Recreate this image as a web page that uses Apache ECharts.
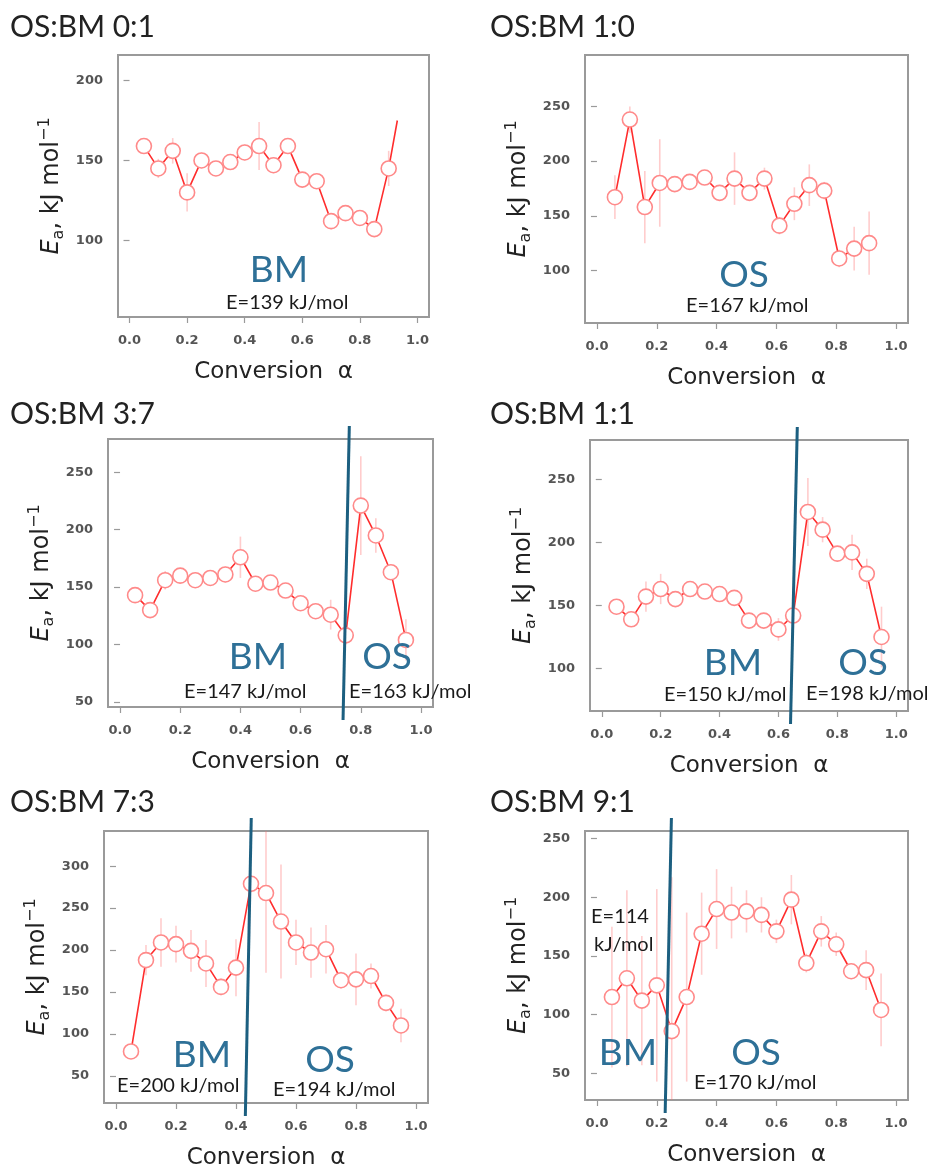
<!DOCTYPE html>
<html>
<head>
<meta charset="utf-8">
<script src="https://cdn.jsdelivr.net/npm/echarts@6/dist/echarts.min.js"></script>
<style>
  html, body { margin: 0; padding: 0; background: #ffffff; }
  #chart { width: 932px; height: 1171px; }
</style>
</head>
<body>
<div id="chart"></div>
<script>
// Activation energy E_a against conversion α for six OS:BM blend ratios.

const xTicks = [0.0, 0.2, 0.4, 0.6, 0.8, 1.0];

const alphaStd = [0.05, 0.10, 0.15, 0.20, 0.25, 0.30, 0.35, 0.40, 0.45, 0.50,
                  0.55, 0.60, 0.65, 0.70, 0.75, 0.80, 0.85, 0.90, 0.95];

// OS:BM 0:1
const alpha01 = [0.05, 0.10, 0.15, 0.20, 0.25, 0.30, 0.35, 0.40, 0.45, 0.50,
                 0.55, 0.60, 0.65, 0.70, 0.75, 0.80, 0.85, 0.90, 0.93];
const ea01  = [159, 145, 156, 130, 150, 145, 149, 155, 159, 147, 159, 138, 137, 112, 117, 114, 107, 145, 175];
const err01 = [5, 6, 8, 12, 5, 4, 4, 5, 15, 5, 5, 4, 4, 5, 4, 4, 4, 11, 0];
const yTicks01 = [100, 150, 200];

// OS:BM 1:0
const alpha10 = [0.06, 0.11, 0.16, 0.21, 0.26, 0.31, 0.36, 0.41, 0.46, 0.51,
                 0.56, 0.61, 0.66, 0.71, 0.76, 0.81, 0.86, 0.91];
const ea10  = [167, 238, 158, 180, 179, 181, 185, 171, 184, 171, 184, 141, 161, 178, 173, 111, 120, 125];
const err10 = [20, 12, 33, 40, 4, 4, 4, 4, 24, 4, 10, 8, 15, 19, 8, 8, 20, 29];
const yTicks10 = [100, 150, 200, 250];

// OS:BM 3:7
const ea37  = [143, 130, 156, 160, 156, 158, 161, 176, 153, 154, 147, 136, 129, 126, 108, 221, 195, 163, 104];
const err37 = [5, 4, 8, 6, 4, 4, 7, 18, 4, 4, 4, 4, 4, 13, 8, 43, 15, 5, 18];
const yTicks37 = [50, 100, 150, 200, 250];

// OS:BM 1:1
const ea11  = [149, 139, 157, 163, 155, 163, 161, 159, 156, 138, 138, 131, 142, 224, 210, 191, 192, 175, 125];
const err11 = [4, 5, 12, 12, 4, 4, 4, 4, 4, 4, 5, 9, 5, 27, 10, 6, 14, 12, 24];
const yTicks11 = [100, 150, 200, 250];

// OS:BM 7:3
const ea73  = [79, 188, 209, 207, 199, 184, 156, 179, 279, 268, 234, 209, 197, 201, 164, 165, 169, 137, 110];
const err73 = [8, 18, 29, 22, 25, 28, 10, 34, 10, 95, 68, 27, 30, 29, 10, 31, 15, 10, 20];
const yTicks73 = [50, 100, 150, 200, 250, 300];

// OS:BM 9:1
const ea91  = [115, 131, 112, 125, 86, 115, 169, 190, 187, 188, 185, 171, 198, 144, 171, 160, 137, 138, 104];
const err91 = [60, 75, 55, 82, 131, 72, 35, 34, 22, 18, 15, 10, 21, 8, 13, 10, 6, 17, 31];
const yTicks91 = [50, 100, 150, 200, 250];

// Regime boundary (α where the drawn divider meets the top and bottom of the frame)
const split37 = [0.761, 0.742];
const split11 = [0.663, 0.642];
const split73 = [0.450, 0.432];
const split91 = [0.248, 0.229];

const BLUE = '#2e7097';
const panels = [
  { title: 'OS:BM 0:1', alpha: alpha01, ea: ea01, err: err01, yTicks: yTicks01, yMin: 52, yMax: 216,
    box: [118, 55, 311, 262], titlePos: [10, 27], openEnd: true, split: null,
    notes: [
      { t: 'BM', x: 279, y: 270, big: true },
      { t: 'E=139 kJ/mol', x: 226, y: 303 }
    ] },
  { title: 'OS:BM 1:0', alpha: alpha10, ea: ea10, err: err10, yTicks: yTicks10, yMin: 52, yMax: 297,
    box: [585, 55, 323, 268], titlePos: [490, 27], split: null,
    notes: [
      { t: 'OS', x: 744, y: 275, big: true },
      { t: 'E=167 kJ/mol', x: 686, y: 306 }
    ] },
  { title: 'OS:BM 3:7', alpha: alphaStd, ea: ea37, err: err37, yTicks: yTicks37, yMin: 45.6, yMax: 279,
    box: [108, 439, 325, 268], titlePos: [10, 414], split: split37,
    notes: [
      { t: 'BM', x: 258, y: 657, big: true },
      { t: 'E=147 kJ/mol', x: 184, y: 692 },
      { t: 'OS', x: 387, y: 657, big: true },
      { t: 'E=163 kJ/mol', x: 349, y: 692 }
    ] },
  { title: 'OS:BM 1:1', alpha: alphaStd, ea: ea11, err: err11, yTicks: yTicks11, yMin: 66.4, yMax: 281,
    box: [590, 440, 318, 271], titlePos: [490, 414], split: split11,
    notes: [
      { t: 'BM', x: 733, y: 663, big: true },
      { t: 'E=150 kJ/mol', x: 664, y: 695 },
      { t: 'OS', x: 863, y: 663, big: true },
      { t: 'E=198 kJ/mol', x: 806, y: 694 }
    ] },
  { title: 'OS:BM 7:3', alpha: alphaStd, ea: ea73, err: err73, yTicks: yTicks73, yMin: 17.5, yMax: 342,
    box: [104, 831, 324, 272], titlePos: [10, 802], split: split73,
    notes: [
      { t: 'BM', x: 202, y: 1055, big: true },
      { t: 'E=200 kJ/mol', x: 117, y: 1086 },
      { t: 'OS', x: 330, y: 1060, big: true },
      { t: 'E=194 kJ/mol', x: 273, y: 1090 }
    ] },
  { title: 'OS:BM 9:1', alpha: alphaStd, ea: ea91, err: err91, yTicks: yTicks91, yMin: 27.3, yMax: 256.5,
    box: [585, 831, 323, 269], titlePos: [490, 802], split: split91,
    notes: [
      { t: 'E=114', x: 591, y: 917 },
      { t: 'kJ/mol', x: 594, y: 945 },
      { t: 'BM', x: 628, y: 1053, big: true },
      { t: 'OS', x: 756, y: 1053, big: true },
      { t: 'E=170 kJ/mol', x: 694, y: 1083 }
    ] }
];

const AXIS_FONT = '"DejaVu Sans", sans-serif';
const TEXT_FONT = 'Lato, "Open Sans", sans-serif';

const grids = [], xAxes = [], yAxes = [], series = [], graphics = [];

panels.forEach((p, i) => {
  const [left, top, width, height] = p.box;
  grids.push({ left, top, width, height, show: true, backgroundColor: '#fff',
               borderColor: '#9a9a9a', borderWidth: 2, containLabel: false });

  xAxes.push({
    type: 'value', gridIndex: i, min: -0.04, max: 1.04,
    axisLine: { show: false }, splitLine: { show: false },
    axisTick: { show: true, customValues: xTicks, length: 6, lineStyle: { color: '#9a9a9a', width: 1.2 } },
    axisLabel: { customValues: xTicks, formatter: v => v.toFixed(1), margin: 17,
                 fontFamily: AXIS_FONT, fontSize: 13, fontWeight: 'bold', color: '#555' }
  });
  yAxes.push({
    type: 'value', gridIndex: i, min: p.yMin, max: p.yMax,
    axisLine: { show: false }, splitLine: { show: false },
    axisTick: { show: true, customValues: p.yTicks, length: 6, lineStyle: { color: '#9a9a9a', width: 1.2 } },
    axisLabel: { customValues: p.yTicks, margin: 15,
                 fontFamily: AXIS_FONT, fontSize: 13, fontWeight: 'bold', color: '#555' }
  });

  // error bars
  series.push({
    type: 'custom', xAxisIndex: i, yAxisIndex: i, clip: true, silent: true, z: 1,
    encode: { x: 0, y: [1, 2] },
    data: p.alpha.map((a, k) => [a, p.ea[k] - p.err[k], p.ea[k] + p.err[k]]),
    renderItem: (params, api) => {
      const lo = api.coord([api.value(0), api.value(1)]);
      const hi = api.coord([api.value(0), api.value(2)]);
      return { type: 'line', shape: { x1: lo[0], y1: lo[1], x2: hi[0], y2: hi[1] },
               style: { stroke: 'rgba(255,110,110,0.35)', lineWidth: 1.6 } };
    }
  });

  // Ea curve with hollow markers
  series.push({
    type: 'line', xAxisIndex: i, yAxisIndex: i, z: 5, silent: true,
    data: p.alpha.map((a, k) => (p.openEnd && k === p.alpha.length - 1)
      ? { value: [a, p.ea[k]], symbol: 'none' } : [a, p.ea[k]]),
    symbol: 'circle', symbolSize: 15, showAllSymbol: true,
    itemStyle: { color: '#ffffff', borderColor: '#ff8a8a', borderWidth: 1.6 },
    lineStyle: { color: '#ff2d2d', width: 1.6 }
  });

  // regime divider
  if (p.split) {
    const yLo = p.yMin, yHi = p.yMax;
    series.push({
      type: 'custom', xAxisIndex: i, yAxisIndex: i, clip: false, silent: true, z: 10,
      encode: { x: [0, 1] },
      data: [p.split],
      renderItem: (params, api) => {
        const a = api.coord([api.value(0), yHi]);
        const b = api.coord([api.value(1), yLo]);
        const dx = a[0] - b[0], dy = a[1] - b[1];
        const len = Math.hypot(dx, dy), ux = dx / len, uy = dy / len, ext = 13;
        return { type: 'line',
                 shape: { x1: a[0] + ux * ext, y1: a[1] + uy * ext, x2: b[0] - ux * ext, y2: b[1] - uy * ext },
                 style: { stroke: '#1c5f80', lineWidth: 3 } };
      }
    });
  }

  // panel title
  graphics.push({ type: 'text', x: p.titlePos[0], y: p.titlePos[1], z: 20,
    style: { text: p.title, fontFamily: TEXT_FONT, fontSize: 30, fill: '#222',
             align: 'left', verticalAlign: 'middle' } });

  // axis titles
  graphics.push({ type: 'text', x: left + width / 2, y: top + height + 55, z: 20,
    style: { text: 'Conversion  α', fontFamily: AXIS_FONT, fontSize: 23, fill: '#222',
             align: 'center', verticalAlign: 'middle' } });
  graphics.push({ type: 'text', x: left - 66, y: top + height / 2, rotation: Math.PI / 2, z: 20,
    style: {
      text: '{e|E}{sub|a}{n|, kJ mol}{sup|−1}',
      align: 'center', verticalAlign: 'middle', fill: '#222',
      rich: {
        e:   { fontFamily: AXIS_FONT, fontSize: 24, fontStyle: 'italic', lineHeight: 30, fill: '#222' },
        sub: { fontFamily: AXIS_FONT, fontSize: 16, lineHeight: 14, verticalAlign: 'bottom', fill: '#222' },
        n:   { fontFamily: AXIS_FONT, fontSize: 24, lineHeight: 30, fill: '#222' },
        sup: { fontFamily: AXIS_FONT, fontSize: 16, lineHeight: 14, verticalAlign: 'top', fill: '#222' }
      }
    } });

  // regime labels and fitted energies
  p.notes.forEach(n => {
    graphics.push({ type: 'text', x: n.x, y: n.y, z: 20,
      style: n.big
        ? { text: n.t, fontFamily: TEXT_FONT, fontSize: 37, fill: BLUE, align: 'center', verticalAlign: 'middle' }
        : { text: n.t, fontFamily: TEXT_FONT, fontSize: 20, fill: '#1a1a1a', align: 'left', verticalAlign: 'middle' } });
  });
});

const chart = echarts.init(document.getElementById('chart'), null, { renderer: 'canvas' });
chart.setOption({
  animation: false,
  backgroundColor: '#ffffff',
  grid: grids,
  xAxis: xAxes,
  yAxis: yAxes,
  series: series,
  graphic: graphics
});
</script>
</body>
</html>
